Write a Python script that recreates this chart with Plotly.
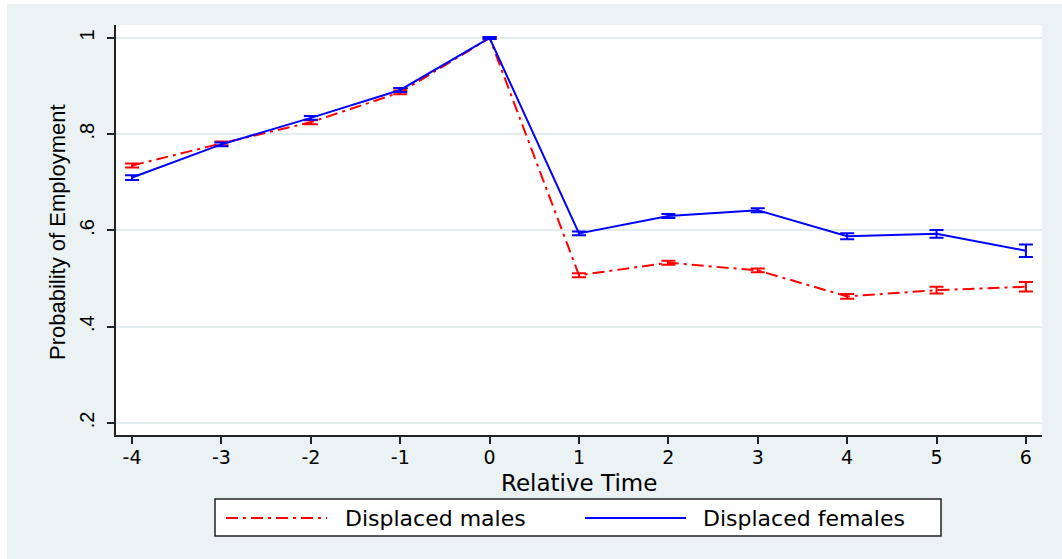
import plotly.graph_objects as go

# Event-time employment profiles for displaced workers
relative_time = [-4, -3, -2, -1, 0, 1, 2, 3, 4, 5, 6]

males_prob = [0.735, 0.781, 0.825, 0.887, 1.000, 0.507, 0.533, 0.517, 0.463, 0.476, 0.483]
males_ci = [0.004, 0.004, 0.004, 0.004, 0.002, 0.004, 0.004, 0.004, 0.005, 0.007, 0.010]

females_prob = [0.710, 0.779, 0.834, 0.892, 1.000, 0.594, 0.630, 0.642, 0.588, 0.593, 0.558]
females_ci = [0.005, 0.004, 0.004, 0.004, 0.002, 0.004, 0.004, 0.004, 0.006, 0.008, 0.013]

y_tick_vals = [0.2, 0.4, 0.6, 0.8, 1.0]
y_tick_text = [".2", ".4", ".6", ".8", "1"]

series_names = ["Displaced males", "Displaced females"]
series_colors = ["#FF0000", "#0000FF"]

BG = "#EAF2F3"
GRID = "#E3ECEE"
AXIS = "#222222"

W, H = 1062, 559
L, R, T, B = 116, 1042, 25, 435  # plot-area edges in px


def px_x(px):
    return (px - L) / (R - L)


def px_y(py):
    return (B - py) / (B - T)


fig = go.Figure()

fig.add_trace(go.Scatter(
    x=relative_time, y=males_prob, mode="lines", name=series_names[0],
    line=dict(color=series_colors[0], width=2, dash="12px,5px,3px,5px"),
    error_y=dict(type="data", array=males_ci, visible=True,
                 color=series_colors[0], thickness=2, width=7),
    showlegend=False,
))
fig.add_trace(go.Scatter(
    x=relative_time, y=females_prob, mode="lines", name=series_names[1],
    line=dict(color=series_colors[1], width=2),
    error_y=dict(type="data", array=females_ci, visible=True,
                 color=series_colors[1], thickness=2, width=7),
    showlegend=False,
))

shapes = [
    # white frame strips along the top and left edge of the canvas
    dict(type="rect", xref="paper", yref="paper", x0=px_x(0), x1=px_x(W),
         y0=px_y(4), y1=px_y(0), fillcolor="white", line=dict(width=0), layer="above"),
    dict(type="rect", xref="paper", yref="paper", x0=px_x(0), x1=px_x(7),
         y0=px_y(H), y1=px_y(0), fillcolor="white", line=dict(width=0), layer="above"),
    # legend box
    dict(type="rect", xref="paper", yref="paper", x0=px_x(215), x1=px_x(941),
         y0=px_y(536), y1=px_y(499), fillcolor="white",
         line=dict(color=AXIS, width=1.5)),
    # legend keys
    dict(type="line", xref="paper", yref="paper", x0=px_x(226), x1=px_x(327),
         y0=px_y(518), y1=px_y(518),
         line=dict(color=series_colors[0], width=2, dash="12px,5px,3px,5px")),
    dict(type="line", xref="paper", yref="paper", x0=px_x(585), x1=px_x(686),
         y0=px_y(518), y1=px_y(518),
         line=dict(color=series_colors[1], width=2)),
]

annotations = [
    dict(text=series_names[0], xref="paper", yref="paper", x=px_x(343), y=px_y(518),
         xanchor="left", yanchor="middle", showarrow=False,
         font=dict(family="DejaVu Sans", size=22, color="black")),
    dict(text=series_names[1], xref="paper", yref="paper", x=px_x(701), y=px_y(518),
         xanchor="left", yanchor="middle", showarrow=False,
         font=dict(family="DejaVu Sans", size=22, color="black")),
    dict(text="Relative Time", xref="paper", yref="paper", x=0.5, y=px_y(483),
         xanchor="center", yanchor="middle", showarrow=False,
         font=dict(family="DejaVu Sans", size=23, color="black")),
    dict(text="Probability of Employment", xref="paper", yref="paper",
         x=px_x(57), y=px_y(232), textangle=-90,
         xanchor="center", yanchor="middle", showarrow=False,
         font=dict(family="Liberation Sans, Arial", size=22, color="black")),
]

fig.update_layout(
    width=W, height=H,
    margin=dict(l=L, r=W - R, t=T, b=H - B, pad=0),
    paper_bgcolor=BG,
    plot_bgcolor="white",
    shapes=shapes,
    annotations=annotations,
    showlegend=False,
)

fig.update_xaxes(
    range=[-4.18, 6.18],
    tickvals=relative_time,
    ticktext=[str(v) for v in relative_time],
    ticks="outside", ticklen=7, tickwidth=1.5, tickcolor=AXIS,
    showline=True, linecolor=AXIS, linewidth=1.5,
    showgrid=False, zeroline=False,
    ticklabelstandoff=-3,
    tickfont=dict(family="DejaVu Sans", size=19, color="black"),
)
fig.update_yaxes(
    range=[0.175, 1.027],
    tickvals=y_tick_vals,
    ticktext=y_tick_text,
    tickangle=-90,
    ticks="outside", ticklen=7, tickwidth=1.5, tickcolor=AXIS,
    showline=True, linecolor=AXIS, linewidth=1.5,
    showgrid=True, gridcolor=GRID, gridwidth=2,
    zeroline=False,
    ticklabelstandoff=5,
    tickfont=dict(family="Liberation Sans, Arial", size=20, color="black"),
)

fig.write_html("out.html")
